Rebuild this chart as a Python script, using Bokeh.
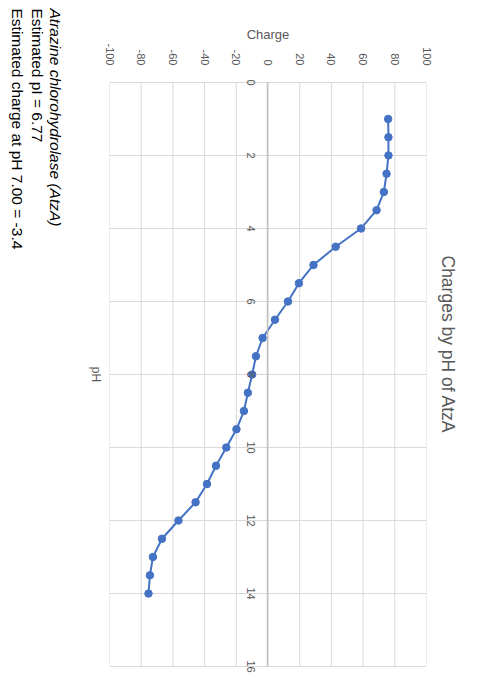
from bokeh.plotting import figure
from bokeh.models import Range1d, FixedTicker, Title
from bokeh.embed import file_html
from bokeh.resources import INLINE

# ---- data ----
ph = [1.0, 1.5, 2.0, 2.5, 3.0, 3.5, 4.0, 4.5, 5.0, 5.5, 6.0, 6.5, 7.0,
      7.5, 8.0, 8.5, 9.0, 9.5, 10.0, 10.5, 11.0, 11.5, 12.0, 12.5, 13.0, 13.5, 14.0]
charge = [75.8, 76.0, 76.0, 74.8, 73.1, 68.5, 58.7, 42.7, 28.7, 19.5, 12.6, 4.4, -3.4,
          -7.6, -10.0, -12.7, -15.2, -19.9, -26.3, -32.8, -38.5, -45.7, -56.5, -66.9, -72.6, -74.5, -75.4]
ph_ticks = [0, 2, 4, 6, 8, 10, 12, 14, 16]
charge_ticks = [-100, -80, -60, -40, -20, 0, 20, 40, 60, 80, 100]
title_text = "Charges by pH of AtzA"
x_title = "pH"
y_title = "Charge"
notes = ["Atrazine chlorohydrolase (AtzA)", "Estimated pI = 6.77", "Estimated charge at pH 7.00 = -3.4"]

FONT = "Liberation Sans"
GREY = "#595959"
GRID = "#d9d9d9"
PH_PAD = 0.3   # room so the end tick labels of the crossing pH axis are not cut

# The chart is drawn in its natural orientation (684 wide, 472 high) and the whole
# figure is turned a quarter turn clockwise, as in the reference picture.
# The element box is given the turned size (472 x 684), since the page measures
# the element after the turn.
PAGE_W, PAGE_H = 472, 684
p = figure(width=PAGE_W, height=PAGE_H,
           x_range=Range1d(ph_ticks[0] - PH_PAD, ph_ticks[-1] + PH_PAD),
           y_range=Range1d(charge_ticks[0], charge_ticks[-1]),
           output_backend="svg", toolbar_location=None,
           min_border_left=71, min_border_right=7,
           min_border_top=45, min_border_bottom=110,
           styles={"transform": "translate(%dpx, 0px) rotate(90deg)" % PAGE_W,
                   "transform-origin": "0px 0px",
                   "overflow": "visible"})

p.outline_line_color = None
p.background_fill_color = "white"
p.border_fill_color = "white"

# title
p.title.text = title_text
p.title.align = "left"
p.title.offset = 184
p.title.standoff = 23
p.title.text_font = FONT
p.title.text_font_size = "17.5px"
p.title.text_font_style = "normal"
p.title.text_color = GREY

# pH axis crossing at charge 0
xa = p.xaxis[0]
xa.fixed_location = 0
xa.bounds = (ph_ticks[0], ph_ticks[-1])
xa.ticker = FixedTicker(ticks=ph_ticks)
xa.axis_line_color = "#bfbfbf"
xa.axis_line_width = 1.5
xa.major_tick_in = 0
xa.major_tick_out = 0
xa.minor_tick_line_color = None
xa.major_label_standoff = 13
xa.major_label_text_font = FONT
xa.major_label_text_font_size = "11px"
xa.major_label_text_color = GREY

# charge axis
ya = p.yaxis[0]
ya.ticker = FixedTicker(ticks=charge_ticks)
ya.major_label_overrides = {t: str(t) for t in charge_ticks}
ya.axis_line_color = None
ya.major_tick_in = 0
ya.major_tick_out = 0
ya.minor_tick_line_color = None
ya.major_label_standoff = 6
ya.major_label_text_font = FONT
ya.major_label_text_font_size = "11px"
ya.major_label_text_color = GREY
ya.axis_label = y_title
ya.axis_label_text_font = FONT
ya.axis_label_text_font_size = "13px"
ya.axis_label_text_font_style = "normal"
ya.axis_label_text_color = GREY
ya.axis_label_standoff = -2

# grid: lines at the pH ticks, and charge lines that stop at the ends of the pH axis
p.xgrid.ticker = FixedTicker(ticks=ph_ticks)
p.xgrid.grid_line_color = GRID
p.ygrid.grid_line_color = None
p.segment(x0=[ph_ticks[0]] * len(charge_ticks), x1=[ph_ticks[-1]] * len(charge_ticks),
          y0=charge_ticks, y1=charge_ticks, line_color=GRID, line_width=1)

# series
p.line(ph, charge, line_color="#4472C4", line_width=2)
p.scatter(ph, charge, size=7.5, fill_color="#4472C4", line_color="#4472C4")

# pH axis title, a gap, and the notes below the plot
p.add_layout(Title(text=x_title, align="center", standoff=9, text_font=FONT,
                   text_font_size="12px", text_font_style="normal", text_color=GREY), "below")
p.add_layout(Title(text=" ", align="left", standoff=3, text_font=FONT,
                   text_font_size="12px"), "below")
stand = [-1, 0, 2]
for i, t in enumerate(notes):
    p.add_layout(Title(text=t, align="left", offset=-63, standoff=stand[i], text_font=FONT,
                       text_font_size="15.5px", text_color="black",
                       text_font_style="italic" if i == 0 else "normal"), "below")

open("out.html", "w").write(file_html(p, INLINE))
